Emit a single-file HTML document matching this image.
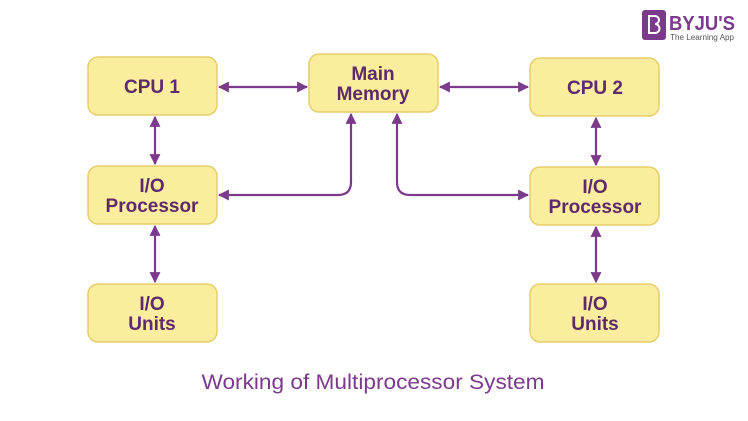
<!DOCTYPE html>
<html><head><meta charset="utf-8"><style>
html,body{margin:0;padding:0;background:#fff;}
svg{display:block;}
.b{fill:#fbed9e;stroke:#e6cf6a;stroke-width:1.5;}
.t{font-family:"Liberation Sans",sans-serif;font-weight:bold;fill:#5e2a6b;font-size:19px;text-anchor:middle;}
.l{stroke:#7b3a8c;stroke-width:2.2;fill:none;}
</style></head><body>
<svg width="748" height="421" viewBox="0 0 748 421" xmlns="http://www.w3.org/2000/svg">
<defs><marker id="a" viewBox="0 0 10 10" refX="9" refY="5" markerWidth="5" markerHeight="5" orient="auto-start-reverse"><path d="M0,0 L10,5 L0,10 z" fill="#7b3a8c"/></marker></defs>
<rect class="b" x="88" y="57" width="129" height="58" rx="10"/>
<rect class="b" x="309" y="54" width="129" height="58" rx="10"/>
<rect class="b" x="530" y="58" width="129" height="58" rx="10"/>
<rect class="b" x="88" y="166" width="129" height="58" rx="10"/>
<rect class="b" x="530" y="167" width="129" height="58" rx="10"/>
<rect class="b" x="88" y="284" width="129" height="58" rx="10"/>
<rect class="b" x="530" y="284" width="129" height="58" rx="10"/>
<text class="t" x="152" y="93">CPU 1</text>
<text class="t" x="373" y="80">Main</text>
<text class="t" x="373" y="100">Memory</text>
<text class="t" x="595" y="94">CPU 2</text>
<text class="t" x="152" y="192">I/O</text>
<text class="t" x="152" y="212">Processor</text>
<text class="t" x="595" y="193">I/O</text>
<text class="t" x="595" y="213">Processor</text>
<text class="t" x="152" y="310">I/O</text>
<text class="t" x="152" y="330">Units</text>
<text class="t" x="595" y="310">I/O</text>
<text class="t" x="595" y="330">Units</text>
<g class="l">
<line x1="219" y1="87" x2="307" y2="87" marker-start="url(#a)" marker-end="url(#a)"/>
<line x1="440" y1="87" x2="528" y2="87" marker-start="url(#a)" marker-end="url(#a)"/>
<line x1="155" y1="117" x2="155" y2="164" marker-start="url(#a)" marker-end="url(#a)"/>
<line x1="596" y1="118" x2="596" y2="165" marker-start="url(#a)" marker-end="url(#a)"/>
<line x1="155" y1="226" x2="155" y2="282" marker-start="url(#a)" marker-end="url(#a)"/>
<line x1="596" y1="227" x2="596" y2="282" marker-start="url(#a)" marker-end="url(#a)"/>
<path d="M219,195 L338,195 Q351,195 351,182 L351,114" marker-start="url(#a)" marker-end="url(#a)"/>
<path d="M397,114 L397,182 Q397,195 410,195 L528,195" marker-start="url(#a)" marker-end="url(#a)"/>
</g>
<text x="373" y="389" font-family="Liberation Sans,sans-serif" font-size="21" fill="#7b3a8c" text-anchor="middle" textLength="343" lengthAdjust="spacingAndGlyphs">Working of Multiprocessor System</text>
<rect x="642" y="10" width="24" height="30" rx="3" fill="#7b3a8c"/>
<path d="M649,16 h6 a4,4 0 0 1 0,8 a4.5,4.5 0 0 1 0,9 h-6 z" fill="none" stroke="#fff" stroke-width="2"/>
<text x="669" y="30" font-family="Liberation Sans,sans-serif" font-weight="bold" font-size="20" fill="#7b3a8c" textLength="66" lengthAdjust="spacingAndGlyphs">BYJU'S</text>
<text x="670" y="40" font-family="Liberation Sans,sans-serif" font-size="8" fill="#555" textLength="64" lengthAdjust="spacingAndGlyphs">The Learning App</text>
</svg>
</body></html>
